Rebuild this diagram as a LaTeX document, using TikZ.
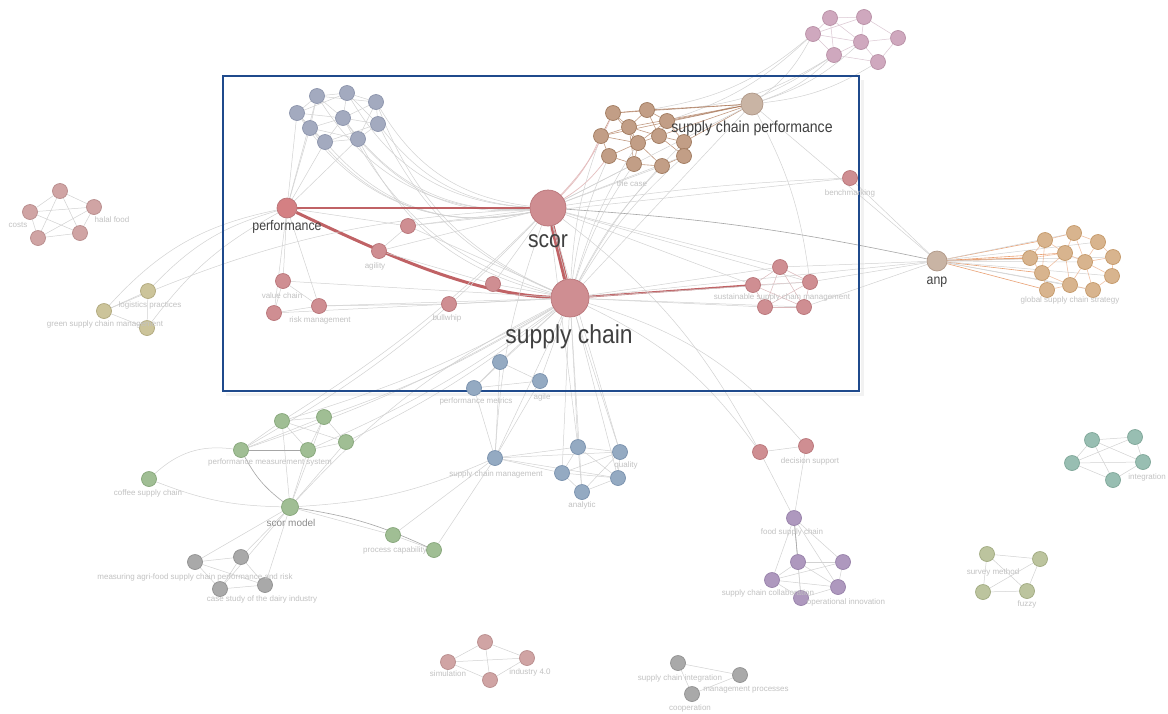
\documentclass[tikz,border=0pt]{standalone}
\usepackage{fontspec}
\setmainfont{Liberation Sans}
\pgfdeclarelayer{bg}
\pgfsetlayers{bg,main}
\definecolor{cBox}{HTML}{1F4A8C}
\definecolor{cEdge}{HTML}{D2D2D2}
\definecolor{cEdgeD}{HTML}{A6A6A6}
\definecolor{cLab}{HTML}{C2C2C2}
\definecolor{cRedE}{HTML}{B5474B}
\definecolor{cRedF}{HTML}{CF8E92}
\definecolor{cRedD}{HTML}{B87478}
\definecolor{cGbF}{HTML}{A3AABF}
\definecolor{cGbD}{HTML}{8C94AC}
\definecolor{cPuF}{HTML}{CFA8BE}
\definecolor{cPuD}{HTML}{B890A6}
\definecolor{cBrF}{HTML}{C29E86}
\definecolor{cBrD}{HTML}{A07A5E}
\definecolor{cBrE}{HTML}{A8704E}
\definecolor{cOrF}{HTML}{D8B48E}
\definecolor{cOrD}{HTML}{C49868}
\definecolor{cOrE}{HTML}{E07A3A}
\definecolor{cGrF}{HTML}{A0BE94}
\definecolor{cGrD}{HTML}{86A67A}
\definecolor{cGyF}{HTML}{A9A9A9}
\definecolor{cGyD}{HTML}{909090}
\definecolor{cBlF}{HTML}{94AAC2}
\definecolor{cBlD}{HTML}{7890AC}
\definecolor{cViF}{HTML}{AE98BE}
\definecolor{cViD}{HTML}{9680A8}
\definecolor{cOlF}{HTML}{BCC49E}
\definecolor{cOlD}{HTML}{A0AA80}
\definecolor{cTeF}{HTML}{98BEB2}
\definecolor{cTeD}{HTML}{7EA698}
\definecolor{cYeF}{HTML}{CCC49A}
\definecolor{cYeD}{HTML}{B0A87C}
\definecolor{cTanF}{HTML}{C9B4A4}
\definecolor{cTanD}{HTML}{B09888}
\definecolor{cPkF}{HTML}{D0A4A4}
\definecolor{cPkD}{HTML}{B88C8C}
\begin{document}
\begin{tikzpicture}[x=1pt,y=-1pt,
  nd/.style={circle,inner sep=0pt,minimum size=15pt,line width=0.7pt},
  rdn/.style={nd,fill=cRedF,draw=cRedD},
  gbn/.style={nd,fill=cGbF,draw=cGbD},
  pun/.style={nd,fill=cPuF,draw=cPuD},
  brn/.style={nd,fill=cBrF,draw=cBrD},
  orn/.style={nd,fill=cOrF,draw=cOrD},
  grn/.style={nd,fill=cGrF,draw=cGrD},
  gyn/.style={nd,fill=cGyF,draw=cGyD},
  bln/.style={nd,fill=cBlF,draw=cBlD},
  vin/.style={nd,fill=cViF,draw=cViD},
  oln/.style={nd,fill=cOlF,draw=cOlD},
  ten/.style={nd,fill=cTeF,draw=cTeD},
  yen/.style={nd,fill=cYeF,draw=cYeD},
  tan/.style={nd,fill=cTanF,draw=cTanD},
  pkn/.style={nd,fill=cPkF,draw=cPkD},
  lb/.style={font=\fontsize{8}{9}\selectfont,text=cLab,inner sep=0pt},
  bigl/.style={text=black!75,inner sep=0pt,xscale=0.88},
  ed/.style={draw=cEdge,line width=0.5pt},
  edd/.style={draw=cEdgeD,line width=0.6pt},
  bre/.style={draw=cBrE,line width=0.6pt,opacity=0.7},
  ore/.style={draw=cOrE,line width=0.6pt,opacity=0.7},
  rede/.style={draw=cRedE,line width=#1,opacity=0.85},
]
\useasboundingbox (0,0) rectangle (1168,713);
\begin{pgfonlayer}{bg}
\fill[white] (0,0) rectangle (1168,713);
\draw[black!5,line width=3pt] (226,394) -- (862,394) -- (862,80);
\end{pgfonlayer}

% ---------- main box ----------
\node[draw=cBox,line width=1.6pt,minimum width=636pt,minimum height=315pt,inner sep=0pt] (box) at (541,233.5) {};

% ---------- hubs ----------
\node[rdn,minimum size=36pt] (scor) at (548,208) {};
\node[rdn,minimum size=38pt] (sc) at (570,298) {};
\node[rdn,minimum size=20pt,fill=cRedF!90!red] (perf) at (287,208) {};
\node[tan,minimum size=22pt] (scp) at (752,104) {};
\node[tan,minimum size=20pt] (anp) at (937,261) {};

% gray-blue cluster
\node[gbn] (g1) at (317,96) {};
\node[gbn] (g2) at (347,93) {};
\node[gbn] (g3) at (376,102) {};
\node[gbn] (g4) at (297,113) {};
\node[gbn] (g5) at (343,118) {};
\node[gbn] (g6) at (378,124) {};
\node[gbn] (g7) at (310,128) {};
\node[gbn] (g8) at (325,142) {};
\node[gbn] (g9) at (358,139) {};

% purple cluster top right
\node[pun] (u1) at (830,18) {};
\node[pun] (u2) at (864,17) {};
\node[pun] (u3) at (861,42) {};
\node[pun] (u4) at (813,34) {};
\node[pun] (u5) at (898,38) {};
\node[pun] (u6) at (834,55) {};
\node[pun] (u7) at (878,62) {};

% brown cluster
\node[brn] (b1) at (613,113) {};
\node[brn] (b2) at (647,110) {};
\node[brn] (b3) at (667,121) {};
\node[brn] (b4) at (601,136) {};
\node[brn] (b5) at (629,127) {};
\node[brn] (b6) at (659,136) {};
\node[brn] (b7) at (684,142) {};
\node[brn] (b8) at (609,156) {};
\node[brn] (b9) at (638,143) {};
\node[brn] (b10) at (684,156) {};
\node[brn] (b11) at (634,164) {};
\node[brn] (b12) at (662,166) {};

% orange cluster
\node[orn] (o1) at (1045,240) {};
\node[orn] (o2) at (1074,233) {};
\node[orn] (o3) at (1098,242) {};
\node[orn] (o4) at (1030,258) {};
\node[orn] (o5) at (1065,253) {};
\node[orn] (o6) at (1085,262) {};
\node[orn] (o7) at (1113,257) {};
\node[orn] (o8) at (1042,273) {};
\node[orn] (o9) at (1070,285) {};
\node[orn] (o10) at (1093,290) {};
\node[orn] (o11) at (1112,276) {};
\node[orn] (o12) at (1047,290) {};

% red right cluster
\node[rdn] (r1) at (780,267) {};
\node[rdn] (r2) at (753,285) {};
\node[rdn] (r3) at (810,282) {};
\node[rdn] (r4) at (765,307) {};
\node[rdn] (r5) at (804,307) {};
\node[rdn] (rs) at (850,178) {};

% red left nodes
\node[rdn] (l1) at (408,226) {};
\node[rdn] (l2) at (379,251) {};
\node[rdn] (l3) at (283,281) {};
\node[rdn] (l4) at (274,313) {};
\node[rdn] (l5) at (319,306) {};
\node[rdn] (l6) at (449,304) {};
\node[rdn] (l7) at (493,284) {};

% left pink cluster
\node[pkn] (k1) at (60,191) {};
\node[pkn] (k2) at (30,212) {};
\node[pkn] (k3) at (94,207) {};
\node[pkn] (k4) at (38,238) {};
\node[pkn] (k5) at (80,233) {};

% left yellow cluster
\node[yen] (y1) at (148,291) {};
\node[yen] (y2) at (104,311) {};
\node[yen] (y3) at (147,328) {};

% green cluster
\node[grn] (gr1) at (282,421) {};
\node[grn] (gr2) at (324,417) {};
\node[grn] (gr3) at (346,442) {};
\node[grn] (gr4) at (241,450) {};
\node[grn] (gr5) at (308,450) {};
\node[grn] (gr6) at (149,479) {};
\node[grn,minimum size=17pt] (gr7) at (290,507) {};
\node[grn] (gr8) at (393,535) {};
\node[grn] (gr9) at (434,550) {};

% gray cluster
\node[gyn] (q1) at (195,562) {};
\node[gyn] (q2) at (241,557) {};
\node[gyn] (q3) at (220,589) {};
\node[gyn] (q4) at (265,585) {};

% blue cluster
\node[bln] (bl1) at (500,362) {};
\node[bln] (bl2) at (474,388) {};
\node[bln] (bl3) at (540,381) {};
\node[bln] (scm) at (495,458) {};
\node[bln] (bl5) at (578,447) {};
\node[bln] (bl6) at (620,452) {};
\node[bln] (bl7) at (562,473) {};
\node[bln] (bl8) at (618,478) {};
\node[bln] (bl9) at (582,492) {};

% red pair
\node[rdn] (rp1) at (760,452) {};
\node[rdn] (rp2) at (806,446) {};

% violet cluster
\node[vin] (v1) at (794,518) {};
\node[vin] (v2) at (798,562) {};
\node[vin] (v3) at (843,562) {};
\node[vin] (v4) at (772,580) {};
\node[vin] (v5) at (838,587) {};
\node[vin] (v6) at (801,598) {};

% olive cluster
\node[oln] (w1) at (987,554) {};
\node[oln] (w2) at (1040,559) {};
\node[oln] (w3) at (983,592) {};
\node[oln] (w4) at (1027,591) {};

% teal cluster
\node[ten] (t1) at (1092,440) {};
\node[ten] (t2) at (1135,437) {};
\node[ten] (t3) at (1072,463) {};
\node[ten] (t4) at (1143,462) {};
\node[ten] (t5) at (1113,480) {};

% bottom pink cluster
\node[pkn] (z1) at (485,642) {};
\node[pkn] (z2) at (448,662) {};
\node[pkn] (z3) at (527,658) {};
\node[pkn] (z4) at (490,680) {};

% bottom gray cluster
\node[gyn] (x1) at (678,663) {};
\node[gyn] (x2) at (740,675) {};
\node[gyn] (x3) at (692,694) {};

% ---------- labels ----------
\node[bigl,font=\fontsize{24}{26}\selectfont] (Lscor) at (548,241) {scor};
\node[bigl,font=\fontsize{26}{28}\selectfont] (Lsc) at (569,337) {supply chain};
\node[bigl,font=\fontsize{14}{16}\selectfont] (Lperf) at (287,227) {performance};
\node[bigl,font=\fontsize{16}{18}\selectfont] (Lscp) at (752,128) {supply chain performance};
\node[bigl,font=\fontsize{14}{16}\selectfont] (Lanp) at (937,282) {anp};

\node[lb] (Lk1) at (18,225) {costs};
\node[lb] (Lk2) at (112,220) {halal food};
\node[lb] (Ly1) at (150,305) {logistics practices};
\node[lb] (Ly2) at (105,324) {green supply chain management};
\node[lb] (Ll2) at (375,266) {agility};
\node[lb] (Ll3) at (282,296) {value chain};
\node[lb] (Ll5) at (320,320) {risk management};
\node[lb] (Ll6) at (447,318) {bullwhip};
\node[lb] (Lrs) at (850,193) {benchmarking};
\node[lb] (Lr) at (782,297) {sustainable supply chain management};
\node[lb] (Lo) at (1070,300) {global supply chain strategy};
\node[lb] (Lb) at (632,184) {the case};
\node[lb] (Lbl2) at (476,401) {performance metrics};
\node[lb] (Lbl3) at (542,397) {agile};
\node[lb] (Lscm) at (496,474) {supply chain management};
\node[lb] (Lbl9) at (582,505) {analytic};
\node[lb] (Lbl6) at (626,465) {quality};
\node[lb] (Lgr) at (270,462) {performance measurement system};
\node[lb] (Lgr6) at (148,493) {coffee supply chain};
\node[font=\fontsize{10}{11}\selectfont,text=black!45,inner sep=0pt] (Lgr7) at (291,523) {scor model};
\node[lb] (Lgr8) at (395,550) {process capability};
\node[lb] (Lq1) at (195,577) {measuring agri-food supply chain performance and risk};
\node[lb] (Lq3) at (262,599) {case study of the dairy industry};
\node[lb] (Lrp) at (810,461) {decision support};
\node[lb] (Lv1) at (792,532) {food supply chain};
\node[lb] (Lv4) at (768,593) {supply chain collaboration};
\node[lb] (Lv5) at (846,602) {operational innovation};
\node[lb] (Lw1) at (993,572) {survey method};
\node[lb] (Lw4) at (1027,604) {fuzzy};
\node[lb,anchor=east] (Lt) at (1166,477) {integration};
\node[lb] (Lz1) at (448,674) {simulation};
\node[lb] (Lz2) at (530,672) {industry 4.0};
\node[lb] (Lx1) at (680,678) {supply chain integration};
\node[lb] (Lx2) at (746,690) {management processes};
\node[lb] (Lx3) at (690,708) {cooperation};

% ---------- edges ----------
\begin{pgfonlayer}{bg}
% gray-blue cluster internal
\foreach \a/\b in {g1/g2,g2/g3,g1/g4,g4/g7,g7/g8,g8/g9,g9/g6,g6/g3,g5/g1,g5/g2,g5/g3,g5/g6,g5/g7,g5/g8,g5/g9,g4/g5,g1/g7,g2/g6,g3/g9,g7/g9,g4/g8,g2/g4,g1/g3,g6/g8}
  \draw[ed] (\a)--(\b);
% gray-blue cluster to hubs
\foreach \n/\b in {g1/30,g2/28,g3/26,g4/34,g5/28,g6/24,g7/32,g8/30,g9/26}
  \draw[ed] (\n) to[bend right=\b] (scor);
\foreach \n/\b in {g3/22,g6/20,g9/24,g5/22}
  \draw[ed] (\n) to[bend right=\b] (sc);
\foreach \n in {g4,g7,g8,g9,g1}
  \draw[ed] (perf)--(\n);

% purple top cluster
\foreach \a/\b in {u1/u2,u1/u4,u2/u3,u2/u5,u3/u5,u3/u7,u3/u6,u4/u6,u4/u3,u6/u7,u5/u7,u1/u3,u4/u2,u1/u6}
  \draw[ed,draw=cPuD!50] (\a)--(\b);
\foreach \n in {u4,u6,u7,u3}
  \draw[ed] (scp) to[bend right=12] (\n);
\foreach \n in {u4,u6}
  {\draw[ed] (b2) to[bend right=15] (\n); \draw[ed] (b3) to[bend right=12] (\n);}

% brown cluster
\foreach \a/\b in {b1/b2,b1/b4,b1/b5,b2/b3,b2/b5,b2/b6,b3/b6,b3/b7,b4/b5,b4/b8,b5/b9,b6/b9,b6/b7,b7/b10,b8/b9,b8/b11,b9/b11,b9/b12,b10/b12,b11/b12,b6/b10,b5/b6,b4/b9,b3/b9,b1/b9,b5/b11}
  \draw[bre] (\a)--(\b);
\foreach \n in {b1,b2,b3,b5,b6,b7,b4}
  \draw[bre] (scp)--(\n);
\foreach \n in {b4,b8,b11,b12,b9,b10,b7}
  \draw[ed] (sc) to[bend left=8] (\n);
\foreach \n in {b4,b8,b1}
  \draw[draw=cRedE!35,line width=0.7pt] (scor) to[bend right=10] (\n);
\foreach \n in {b11,b12,b10}
  \draw[ed] (scor)--(\n);

% scp links
\draw[ed] (scp)--(sc);
\draw[ed] (scp)--(scor);
\draw[ed] (scp)--(anp);
\draw[ed] (scp) to[bend left=10] (r3);

% anp links
\draw[edd] (scor) to[bend left=4] (anp);
\draw[ed] (sc)--(anp);
\draw[ed] (rs)--(anp);
\foreach \n in {r1,r3,r5}
  \draw[ed] (\n)--(anp);
\draw[ore,line width=1.2pt] (anp)--(o4);
\foreach \n in {o1,o5,o8,o12}
  \draw[ore] (anp)--(\n);
\foreach \n in {o2,o3,o6,o7,o9,o10,o11}
  \draw[ed] (anp)--(\n);
\foreach \a/\b in {o1/o2,o2/o3,o1/o4,o1/o5,o2/o5,o3/o6,o3/o7,o4/o5,o4/o8,o5/o6,o5/o8,o5/o9,o6/o7,o6/o9,o6/o10,o6/o11,o7/o11,o8/o9,o8/o12,o9/o10,o10/o11,o9/o12,o2/o6,o1/o8}
  \draw[ore,opacity=0.45] (\a)--(\b);

% red right cluster
\foreach \a/\b in {r1/r2,r1/r3,r2/r3,r2/r4,r2/r5,r3/r5,r4/r5,r1/r4,r1/r5,r3/r4}
  \draw[ed,draw=cRedD!50] (\a)--(\b);
\draw[rede=1.8pt] (sc)--(r2);
\foreach \n in {r1,r3,r4,r5}
  \draw[ed] (sc)--(\n);
\foreach \n in {r1,r2,r3}
  \draw[ed] (scor)--(\n);
\draw[ed] (scor) to[bend left=3] (rs);
\draw[ed] (l1)--(rs);

% main red edges
\draw[rede=2.2pt] (perf)--(scor);
\draw[rede=3pt] (perf) .. controls (380,252) and (470,294) .. (sc);
\draw[rede=4.5pt] (scor)--(sc);

% red left
\draw[ed] (l1)--(l2);
\draw[ed] (l1)--(scor);
\draw[ed] (l2)--(scor);
\draw[ed] (l1)--(sc);
\draw[ed] (perf)--(l1);
\draw[ed] (perf)--(l3);
\draw[ed] (perf)--(l4);
\draw[ed] (perf)--(l5);
\draw[ed] (l3)--(l4);
\draw[ed] (l3)--(l5);
\draw[ed] (l4)--(l5);
\draw[ed] (l3)--(sc);
\draw[ed] (l4)--(sc);
\draw[ed] (l5)--(sc);
\draw[ed] (l6)--(sc);
\draw[ed] (l7)--(sc);
\draw[ed] (l7)--(scor);
\draw[ed] (l5)--(l6);
\draw[ed] (l2)--(l7);

% left clusters
\foreach \a/\b in {k1/k2,k1/k3,k1/k4,k1/k5,k2/k3,k2/k4,k2/k5,k3/k4,k3/k5,k4/k5}
  \draw[ed] (\a)--(\b);
\foreach \a/\b in {y1/y2,y1/y3,y2/y3}
  \draw[ed] (\a)--(\b);
\draw[ed] (y2) to[bend left=18] (perf);
\draw[ed] (y1) to[bend left=15] (perf);
\draw[ed] (y3) to[bend left=12] (perf);
\draw[ed] (y2) to[bend left=10] (scor);

% green cluster
\foreach \a/\b in {gr1/gr2,gr1/gr3,gr1/gr4,gr1/gr5,gr2/gr3,gr2/gr5,gr3/gr5,gr4/gr5,gr4/gr2,gr1/gr7,gr5/gr7,gr2/gr7,gr3/gr7,gr7/gr8,gr8/gr9}
  \draw[ed] (\a)--(\b);
\draw[edd] (gr4) to[bend right=12] (gr7);
\draw[edd] (gr4)--(gr5);
\draw[ed] (gr6) to[bend left=25] (gr4);
\draw[ed] (gr6) to[bend right=10] (gr7);
\draw[edd] (gr7) to[bend left=8] (gr9);
\foreach \n in {gr1,gr2,gr3,gr4,gr5}
  \draw[ed] (\n) to[bend right=6] (sc);
\draw[ed] (gr4) to[bend right=8] (scor);
\draw[ed] (gr1) to[bend right=6] (scor);
\draw[ed] (gr7) to[bend right=10] (scm);
\draw[ed] (gr8)--(scm);
\draw[ed] (gr9)--(scm);
\draw[ed] (gr7) to[bend left=10] (sc);

% gray cluster
\foreach \a/\b in {q1/q2,q1/q3,q1/q4,q2/q3,q2/q4,q3/q4}
  \draw[ed] (\a)--(\b);
\foreach \n in {q1,q2,q3,q4}
  \draw[ed] (gr7)--(\n);

% blue cluster
\foreach \a/\b in {bl1/bl2,bl1/bl3,bl2/bl3,bl2/scm,bl1/scm,bl3/scm,scm/bl5,scm/bl6,scm/bl7,scm/bl8,bl5/bl6,bl5/bl7,bl5/bl8,bl5/bl9,bl6/bl7,bl6/bl8,bl7/bl8,bl7/bl9,bl8/bl9,bl6/bl9}
  \draw[ed] (\a)--(\b);
\foreach \n in {bl1,bl2,bl3,scm,bl5,bl6,bl7,bl9}
  \draw[ed] (sc)--(\n);
\foreach \n in {bl5,bl6,bl8}
  \draw[ed] (scor)--(\n);
\draw[ed] (scm) to[bend left=8] (scor);

% red pair / violet
\draw[ed] (rp1)--(rp2);
\draw[ed] (sc) to[bend left=14] (rp1);
\draw[ed] (sc) to[bend left=16] (rp2);
\draw[ed] (scor) to[bend left=12] (rp1);
\draw[ed] (rp1)--(v1);
\draw[ed] (rp2)--(v1);
\foreach \a/\b in {v1/v2,v1/v3,v1/v4,v1/v5,v1/v6,v2/v3,v2/v4,v2/v5,v2/v6,v3/v5,v3/v4,v4/v6,v5/v6,v4/v5}
  \draw[ed] (\a)--(\b);
\draw[edd] (v1)--(v2);

% olive / teal / bottom
\foreach \a/\b in {w1/w2,w1/w3,w1/w4,w2/w3,w2/w4,w3/w4}
  \draw[ed] (\a)--(\b);
\foreach \a/\b in {t1/t2,t1/t3,t1/t4,t1/t5,t2/t4,t2/t3,t3/t4,t3/t5,t4/t5}
  \draw[ed] (\a)--(\b);
\foreach \a/\b in {z1/z2,z1/z3,z1/z4,z2/z3,z2/z4,z3/z4}
  \draw[ed] (\a)--(\b);
\foreach \a/\b in {x1/x2,x1/x3,x2/x3}
  \draw[ed] (\a)--(\b);
\end{pgfonlayer}
\end{tikzpicture}
\end{document}
